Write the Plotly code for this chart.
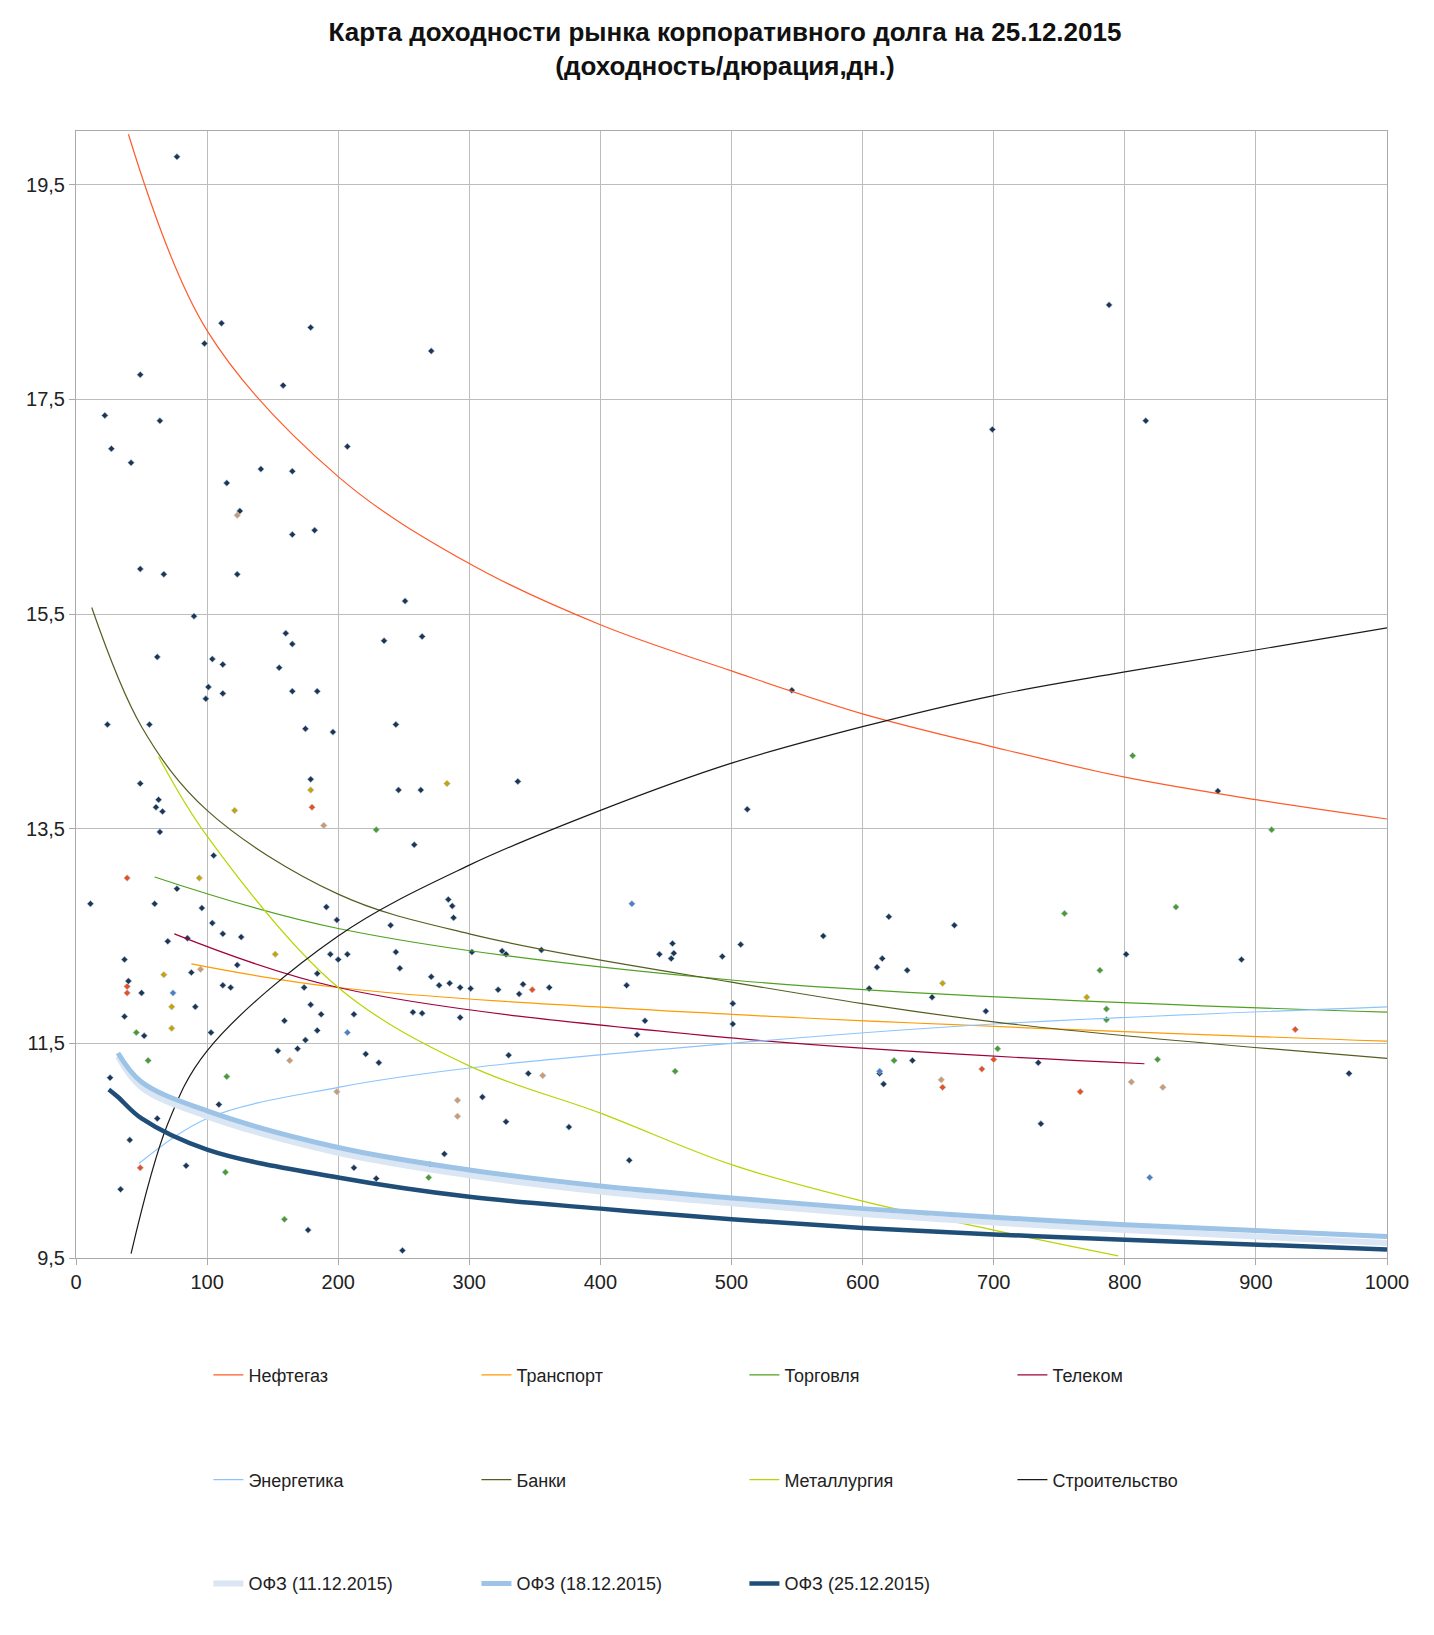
import plotly.graph_objects as go

# трендовые линии (дюрация, доходность)
neftegaz_x = [40, 100, 200, 300, 400, 500, 600, 700, 800, 900, 1000]
neftegaz_y = [19.97, 18.14, 16.78, 15.97, 15.40, 14.97, 14.57, 14.26, 13.98, 13.77, 13.59]
transport_x = [88, 200, 500, 1000]
transport_y = [12.24, 12.02, 11.77, 11.52]
torgovlya_x = [60, 200, 500, 1000]
torgovlya_y = [13.05, 12.57, 12.09, 11.79]
telekom_x = [75, 200, 500, 815]
telekom_y = [12.52, 12.02, 11.55, 11.31]
energ_x = [48, 100, 200, 300, 500, 700, 1000]
energ_y = [10.38, 10.80, 11.09, 11.27, 11.50, 11.68, 11.84]
banki_x = [12, 50, 100, 200, 300, 500, 700, 1000]
banki_y = [15.56, 14.45, 13.67, 12.89, 12.52, 12.07, 11.70, 11.36]
metall_x = [63, 100, 200, 300, 400, 500, 600, 700, 795]
metall_y = [14.17, 13.43, 12.02, 11.29, 10.85, 10.37, 10.03, 9.76, 9.52]
stroi_x = [42, 70, 100, 200, 300, 400, 500, 600, 700, 800, 1000]
stroi_y = [9.54, 10.75, 11.43, 12.50, 13.16, 13.67, 14.11, 14.45, 14.74, 14.96, 15.37]

ofz_x = [25, 32, 50, 100, 200, 300, 400, 500, 600, 700, 800, 1000]
ofz_1112 = [None, 11.38, 11.09, 10.82, 10.48, 10.27, 10.12, 10.01, 9.91, 9.83, 9.76, 9.64]
ofz_1812 = [None, 11.41, 11.14, 10.87, 10.53, 10.32, 10.17, 10.06, 9.96, 9.88, 9.81, 9.70]
ofz_2512 = [11.07, 11.00, 10.80, 10.51, 10.25, 10.07, 9.96, 9.86, 9.78, 9.72, 9.67, 9.58]

# выпуски
dark_pts = [(77, 19.76), (22, 17.35), (27, 17.04), (42, 16.91), (49, 17.73), (64, 17.3), (98, 18.02),
            (111, 18.21), (179, 18.17), (271, 17.95), (158, 17.63), (207, 17.06), (141, 16.85), (165, 16.83),
            (115, 16.72), (125, 16.46), (182, 16.28), (165, 16.24), (49, 15.92), (67, 15.87), (123, 15.87),
            (251, 15.62), (90, 15.48), (160, 15.32), (165, 15.22), (235, 15.25), (264, 15.29), (62, 15.1),
            (104, 15.08), (112, 15.03), (155, 15.0), (101, 14.82), (99, 14.71), (112, 14.76), (165, 14.78),
            (184, 14.78), (24, 14.47), (56, 14.47), (244, 14.47), (175, 14.43), (196, 14.4), (49, 13.92),
            (246, 13.86), (263, 13.86), (337, 13.94), (179, 13.96), (63, 13.77), (61, 13.7), (66, 13.66),
            (64, 13.47), (258, 13.35), (512, 13.68), (546, 14.79), (699, 17.22), (788, 18.38), (816, 17.3),
            (871, 13.85), (11, 12.8), (60, 12.8), (77, 12.94), (105, 13.25), (96, 12.76), (70, 12.45),
            (85, 12.48), (37, 12.28), (50, 11.97), (40, 12.08), (37, 11.75), (52, 11.57), (103, 11.6),
            (104, 12.62), (112, 12.52), (126, 12.49), (123, 12.23), (112, 12.04), (118, 12.02), (88, 12.16),
            (91, 11.84), (154, 11.43), (159, 11.71), (169, 11.45), (175, 11.53), (184, 11.62), (174, 12.02),
            (179, 11.86), (187, 11.77), (184, 12.15), (191, 12.77), (199, 12.65), (194, 12.33), (200, 12.28),
            (207, 12.33), (212, 11.77), (221, 11.4), (231, 11.32), (240, 12.6), (244, 12.35), (247, 12.2),
            (257, 11.79), (264, 11.78), (271, 12.12), (277, 12.04), (285, 12.06), (293, 12.02), (288, 12.67),
            (284, 12.84), (287, 12.78), (293, 11.74), (301, 12.01), (302, 12.35), (322, 12.0), (325, 12.36),
            (328, 12.33), (338, 11.96), (341, 12.05), (355, 12.37), (361, 12.02), (345, 11.22), (330, 11.39),
            (310, 11.0), (328, 10.77), (376, 10.72), (281, 10.47), (249, 9.57), (177, 9.76), (212, 10.34),
            (229, 10.24), (270, 10.37), (84, 10.36), (41, 10.6), (62, 10.8), (109, 10.93), (34, 10.14),
            (26, 11.18), (420, 12.04), (428, 11.58), (434, 11.71), (445, 12.33), (455, 12.43), (454, 12.29),
            (456, 12.34), (493, 12.31), (501, 11.68), (507, 12.42), (501, 11.87), (570, 12.5), (605, 12.01),
            (611, 12.21), (615, 12.29), (620, 12.68), (634, 12.18), (653, 11.93), (616, 11.12), (613, 11.22),
            (638, 11.34), (694, 11.8), (734, 11.32), (736, 10.75), (801, 12.33), (889, 12.28), (971, 11.22),
            (670, 12.6), (422, 10.41)]
red_pts = [(39, 13.04), (39, 12.03), (39, 11.97), (49, 10.34), (180, 13.7), (348, 12.0), (691, 11.26),
           (700, 11.35), (766, 11.05), (930, 11.63), (661, 11.09)]
gold_pts = [(67, 12.14), (73, 11.84), (73, 11.64), (94, 13.04), (121, 13.67), (179, 13.86), (283, 13.92),
            (152, 12.33), (661, 12.06), (771, 11.93)]
green_pts = [(46, 11.6), (55, 11.34), (114, 10.3), (115, 11.19), (229, 13.49), (159, 9.86), (457, 11.24),
             (754, 12.71), (806, 14.18), (839, 12.77), (912, 13.49), (781, 12.18), (786, 11.82), (786, 11.72),
             (703, 11.45), (825, 11.35), (624, 11.34), (269, 10.25)]
tan_pts = [(123, 16.42), (189, 13.53), (163, 11.34), (199, 11.05), (291, 10.97), (291, 10.82), (356, 11.2),
           (805, 11.14), (829, 11.09), (660, 11.16), (95, 12.19)]
blue_pts = [(74, 11.97), (207, 11.6), (613, 11.24), (424, 12.8), (819, 10.25)]

fig = go.Figure()

for pts, col in [(dark_pts, '#1f3550'), (red_pts, '#e8501e'), (gold_pts, '#c9a400'),
                 (green_pts, '#4e9a2a'), (tan_pts, '#d09a6a'), (blue_pts, '#4f7fbf')]:
    fig.add_trace(go.Scatter(
        x=[p[0] for p in pts], y=[p[1] for p in pts], mode='markers', showlegend=False,
        marker=dict(symbol='diamond', size=5, color=col, line=dict(width=0.6, color='#a9c4e4')),
        hoverinfo='skip'))

trends = [
    ('Нефтегаз', neftegaz_x, neftegaz_y, '#ff5a2a', 'legend'),
    ('Транспорт', transport_x, transport_y, '#ff9a00', 'legend'),
    ('Торговля', torgovlya_x, torgovlya_y, '#4ea21e', 'legend'),
    ('Телеком', telekom_x, telekom_y, '#a0003c', 'legend'),
    ('Энергетика', energ_x, energ_y, '#8cc4ff', 'legend2'),
    ('Банки', banki_x, banki_y, '#555d20', 'legend2'),
    ('Металлургия', metall_x, metall_y, '#b8d400', 'legend2'),
    ('Строительство', stroi_x, stroi_y, '#1a1a1a', 'legend2'),
]
for name, xs, ys, col, lg in trends:
    fig.add_trace(go.Scatter(x=xs, y=ys, mode='lines', name=name, legend=lg,
                             line=dict(color=col, width=1.2, shape='spline')))

for name, ys, col, w in [('ОФЗ (11.12.2015)', ofz_1112, '#dbe6f4', 6),
                         ('ОФЗ (18.12.2015)', ofz_1812, '#9dc3e6', 5),
                         ('ОФЗ (25.12.2015)', ofz_2512, '#1f4e79', 4.5)]:
    fig.add_trace(go.Scatter(x=ofz_x, y=ys, mode='lines', name=name, legend='legend3',
                             line=dict(color=col, width=w, shape='spline')))

leg = dict(orientation='h', xanchor='left', x=0.101, entrywidth=223, entrywidthmode='pixels',
           font=dict(size=18, color='#222'), bgcolor='rgba(0,0,0,0)')

fig.update_layout(
    width=1434, height=1635,
    margin=dict(l=68, r=55, t=123, b=385),
    paper_bgcolor='white', plot_bgcolor='white',
    font=dict(family='Liberation Sans, Arial, sans-serif', size=20, color='#222'),
    title=dict(text='<b>Карта доходности рынка корпоративного долга на 25.12.2015<br>(доходность/дюрация,дн.)</b>',
               x=0.5, xanchor='center', y=0.98, yanchor='top', font=dict(size=26, color='#111')),
    xaxis=dict(range=[0, 1000], dtick=100, showgrid=True, gridcolor='#bdbdbd', linecolor='#aaa',
               showline=True, mirror=True, ticks='outside', ticklen=6, tickcolor='#aaa', zeroline=False),
    yaxis=dict(range=[9.5, 20.0], tick0=9.5, dtick=2, showgrid=True, gridcolor='#bdbdbd', linecolor='#aaa',
               showline=True, mirror=True, ticks='outside', ticklen=6, tickcolor='#aaa', zeroline=False,
               tickformat='.1f'),
    separators=', ',
    legend={**leg, 'y': -0.104, 'yanchor': 'middle'},
    legend2={**leg, 'y': -0.197, 'yanchor': 'middle'},
    legend3={**leg, 'y': -0.289, 'yanchor': 'middle'},
)

fig.write_html("out.html")
